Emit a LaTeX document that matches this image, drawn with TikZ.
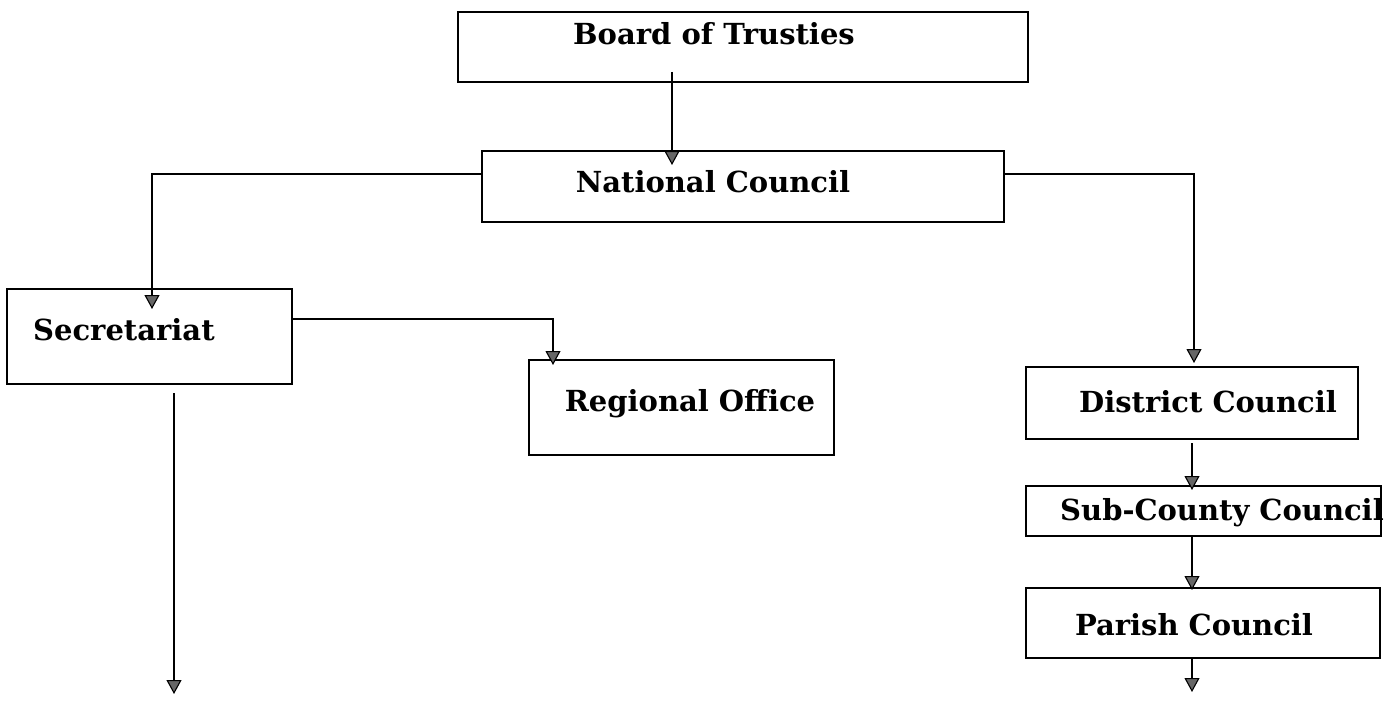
\documentclass[tikz,border=0pt]{standalone}
\usepackage{fontspec}
\setmainfont{DejaVu Serif}
\usetikzlibrary{arrows.meta}
\begin{document}
\begin{tikzpicture}[x=1pt,y=-1pt,
  box/.style={draw, line width=1.4pt, inner sep=0pt, outer sep=0pt, anchor=north west},
  lbl/.style={font=\bfseries\fontsize{29}{33}\selectfont, inner sep=0pt},
  conn/.style={line width=1.1pt, -{Triangle[width=15pt,length=14pt,fill=black!60]}}]
\useasboundingbox (0,0) rectangle (1387,701);
% boxes
\node[box, minimum width=570pt, minimum height=70pt] (board) at (458,12) {};
\node[box, minimum width=522pt, minimum height=71pt] (national) at (482,151) {};
\node[box, minimum width=285pt, minimum height=95pt] (secr) at (7,289) {};
\node[box, minimum width=305pt, minimum height=95pt] (regional) at (529,360) {};
\node[box, minimum width=332pt, minimum height=72pt] (district) at (1026,367) {};
\node[box, minimum width=355pt, minimum height=50pt] (sub) at (1026,486) {};
\node[box, minimum width=354pt, minimum height=70pt] (parish) at (1026,588) {};
% labels
\node[lbl] (tboard) at (714,34) {Board of Trusties};
\node[lbl] (tnational) at (713,182) {National Council};
\node[lbl, anchor=west] (tsecr) at (33,330) {Secretariat};
\node[lbl] (tregional) at (690,404) {Regional Office};
\node[lbl] (tdistrict) at (1208,402) {District Council};
\node[lbl] (tsub) at (1222,513) {Sub-County Council};
\node[lbl] (tparish) at (1194,625) {Parish Council};
% helper coordinates
\coordinate (b1) at (672,72);
\coordinate (nl) at (0,174);
\coordinate (sr) at (0,319);
\coordinate (send) at (174,694);
\coordinate (pend) at (1192,692);
% connectors
\draw[conn, shorten >=-14pt] (b1) -- (b1 |- national.north);
\draw[conn, shorten >=-20pt] (national.west |- nl) -| ([xshift=2.5pt]secr.north);
\draw[conn, shorten >=-5pt] (secr.east |- sr) -| ([xshift=-128.5pt]regional.north);
\draw[conn] ([yshift=-9pt]secr.south -| send) -- (send);
\draw[conn, shorten >=4pt] (national.east |- nl) -| ([xshift=2pt]district.north);
\draw[conn, shorten >=-4pt] ([yshift=-4pt]district.south) -- (district.south |- sub.north);
\draw[conn, shorten >=-2pt] (sub.south -| district.south) -- (district.south |- parish.north);
\draw[conn] (parish.south -| pend) -- (pend);
\end{tikzpicture}
\end{document}
